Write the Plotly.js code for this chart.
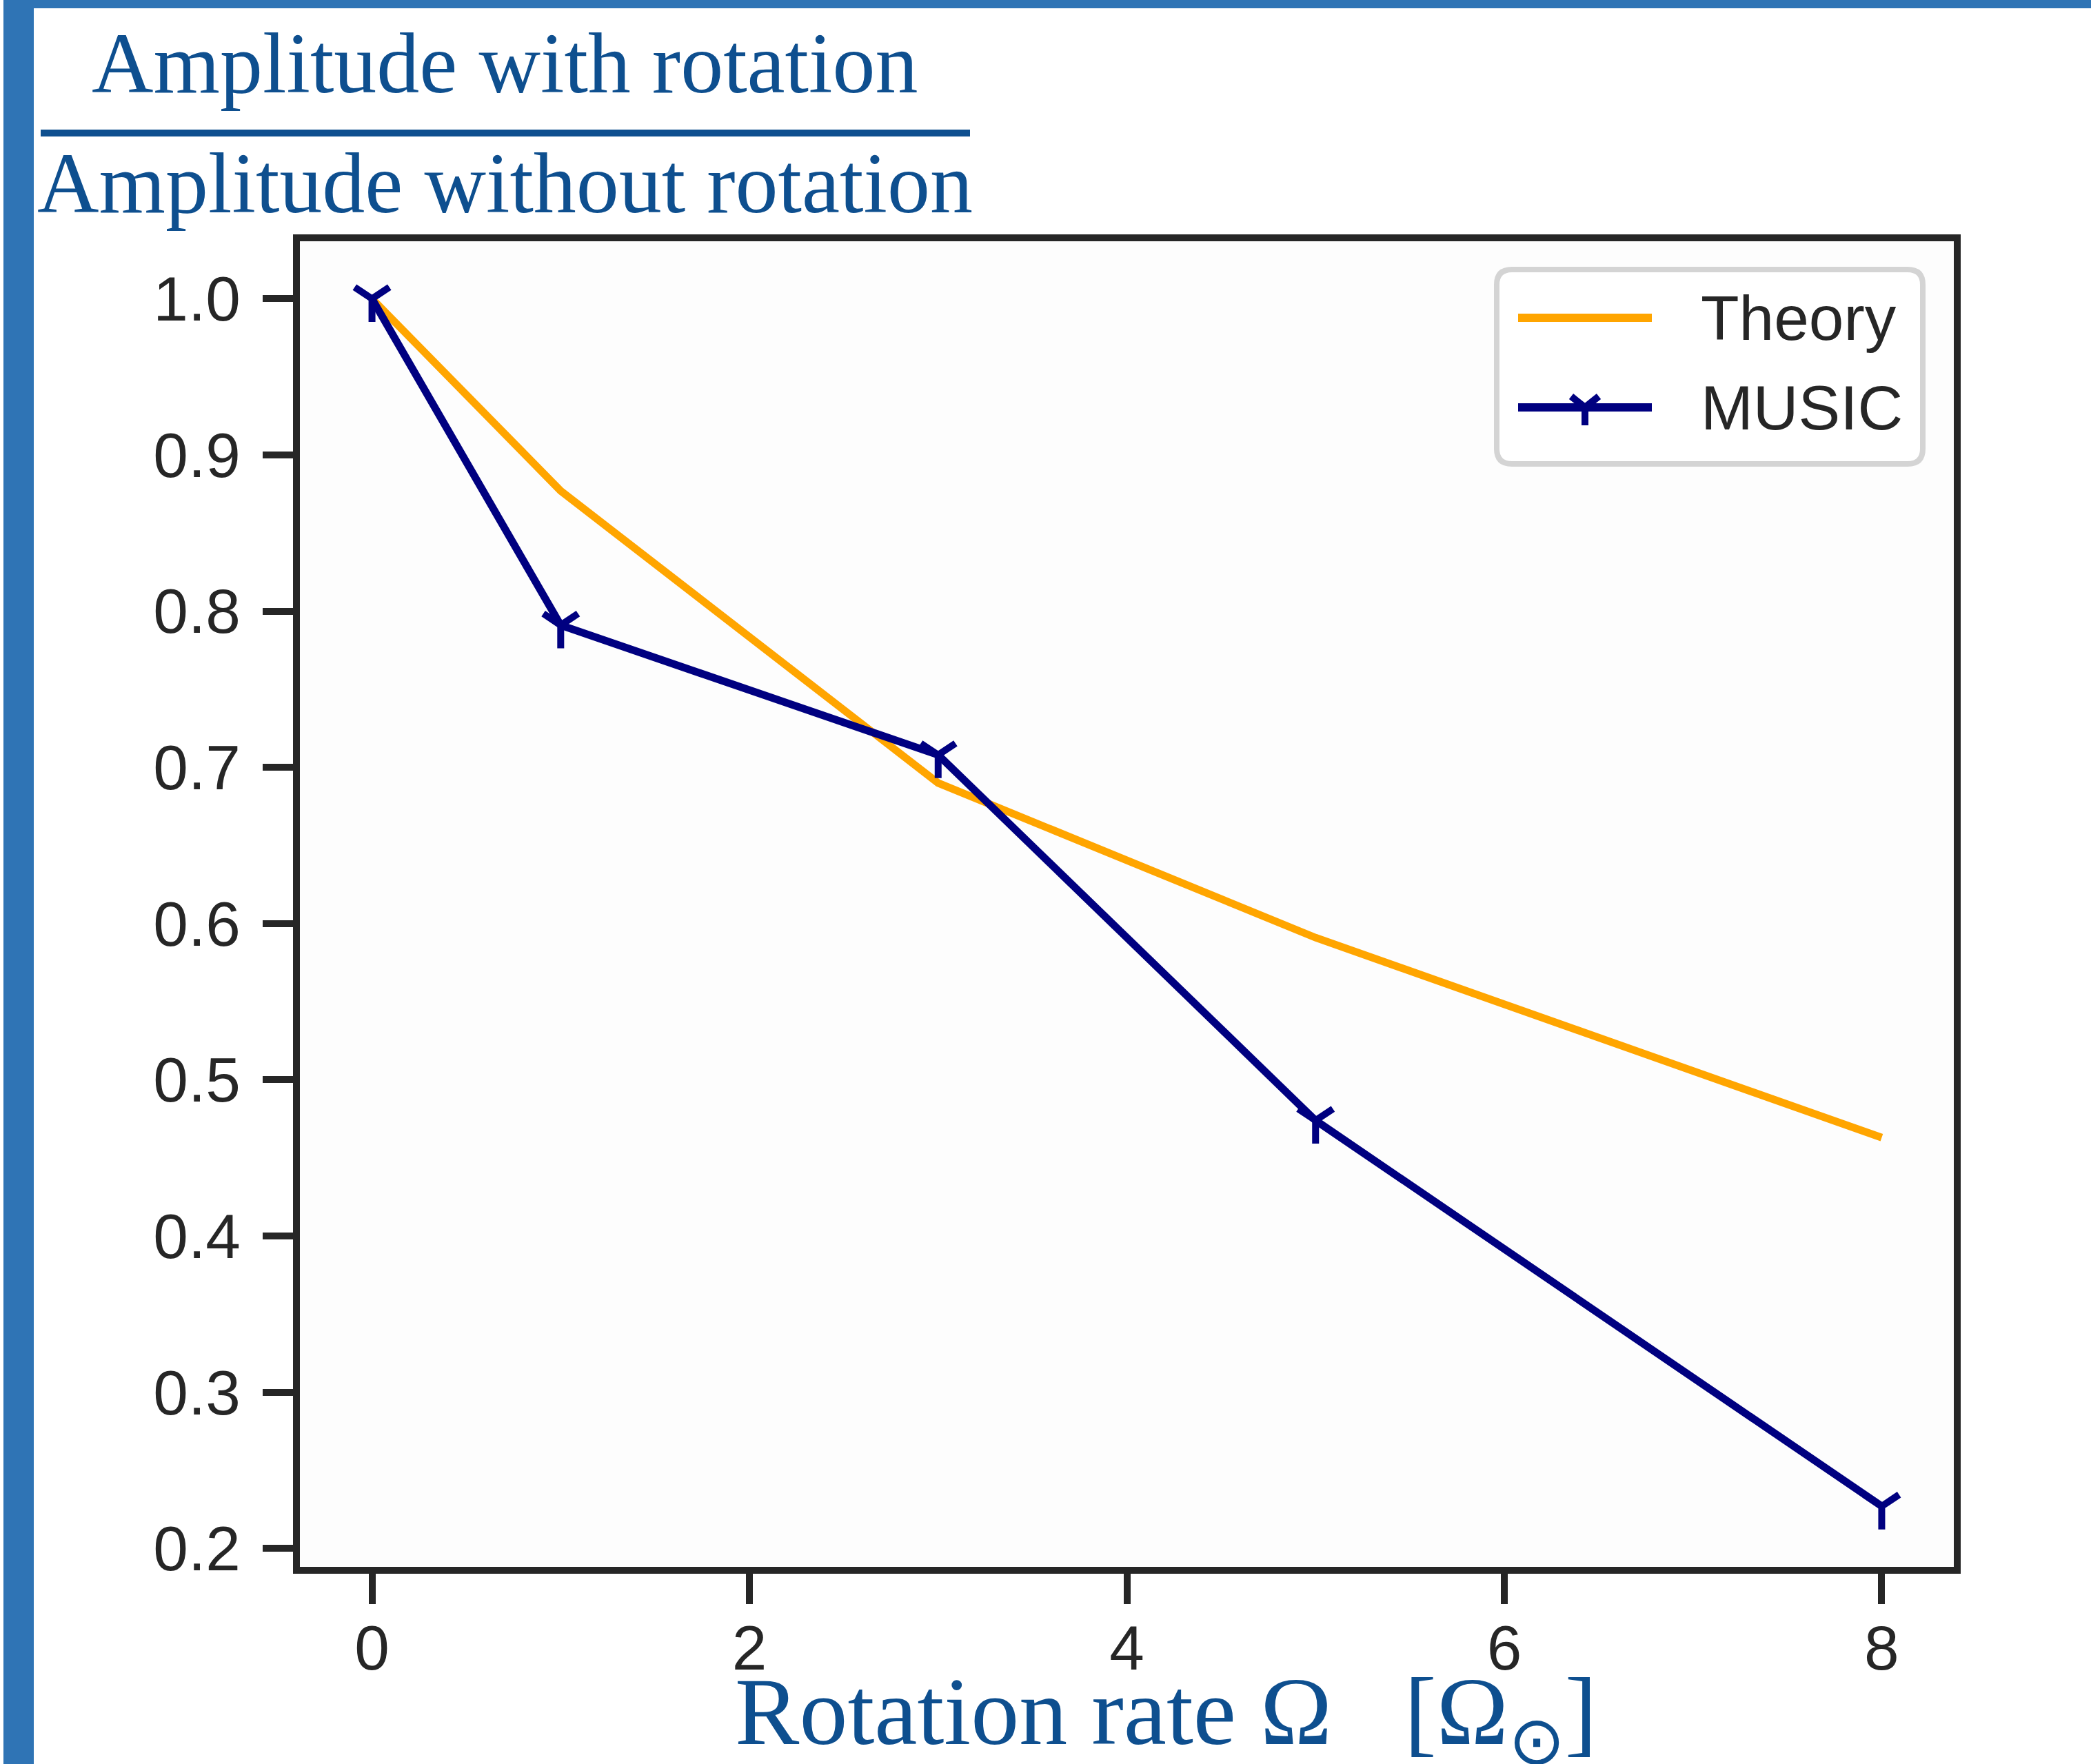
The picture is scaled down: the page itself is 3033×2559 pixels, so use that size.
<!DOCTYPE html>
<html>
<head>
<meta charset="utf-8">
<script src="https://cdn.plot.ly/plotly-3.0.1.min.js"></script>
<style>
  html, body { margin: 0; padding: 0; background: #ffffff; }
  #chart { width: 3033px; height: 2559px; }
</style>
</head>
<body>
<div id="chart"></div>
<script>
// ---- data ----
const theoryX = [0, 1, 3, 5, 8];
const theoryY = [1.0, 0.877, 0.690, 0.591, 0.463];
const musicX = [0, 1, 3, 5, 8];
const musicY = [1.0, 0.791, 0.708, 0.474, 0.227];
const xTickVals = [0, 2, 4, 6, 8];
const xTickText = ['0', '2', '4', '6', '8'];
const yTickVals = [0.2, 0.3, 0.4, 0.5, 0.6, 0.7, 0.8, 0.9, 1.0];
const yTickText = ['0.2', '0.3', '0.4', '0.5', '0.6', '0.7', '0.8', '0.9', '1.0'];
const seriesNames = ['Theory', 'MUSIC'];
const seriesColors = ['#ffa500', '#000080'];
const titleTop = 'Amplitude with rotation';
const titleBottom = 'Amplitude without rotation';
const xTitle = 'Rotation rate Ω\u00A0\u00A0\u00A0[Ω<sub>⊙</sub>]';

// ---- layout geometry (pixels) ----
const W = 3033, H = 2559;
const L = 435, R = 199, T = 350, B = 286;
const pw = W - L - R, ph = H - T - B;
const px = x => (x - L) / pw;
const py = y => (H - B - y) / ph;
const P = (x, y) => px(x).toFixed(5) + ',' + py(y).toFixed(5);

const axisColor = '#262626';
const titleColor = '#0e4f8f';
const frameBlue = '#2f74b5';
const tickFont = { family: 'Liberation Sans, Arial, sans-serif', size: 91, color: axisColor };
const serif = 'Liberation Serif, Times New Roman, serif';

const traces = [
  {
    x: theoryX, y: theoryY, name: seriesNames[0], type: 'scatter', mode: 'lines',
    line: { color: seriesColors[0], width: 11 }
  },
  {
    x: musicX, y: musicY, name: seriesNames[1], type: 'scatter', mode: 'lines+markers',
    line: { color: seriesColors[1], width: 11 },
    marker: { symbol: 'y-down', size: 42, color: seriesColors[1], line: { color: seriesColors[1], width: 10 } }
  }
];

// rounded legend box path (pixel geometry -> paper)
function roundedRect(x0, y0, x1, y1, r) {
  return 'M' + P(x0 + r, y0) + ' L' + P(x1 - r, y0) + ' Q' + P(x1, y0) + ' ' + P(x1, y0 + r) +
    ' L' + P(x1, y1 - r) + ' Q' + P(x1, y1) + ' ' + P(x1 - r, y1) +
    ' L' + P(x0 + r, y1) + ' Q' + P(x0, y1) + ' ' + P(x0, y1 - r) +
    ' L' + P(x0, y0 + r) + ' Q' + P(x0, y0) + ' ' + P(x0 + r, y0) + ' Z';
}
const lgX0 = 2171, lgX1 = 2789, lgY0 = 391, lgY1 = 673;
const lgRowY = [461, 591];
const lgLineX0 = 2202, lgLineX1 = 2396, lgTextX = 2465;
const mcx = (lgLineX0 + lgLineX1) / 2, mcy = lgRowY[1];
const legendMarker = 'M' + P(mcx - 20, mcy - 16) + ' L' + P(mcx, mcy) + ' L' + P(mcx + 20, mcy - 16) +
  ' M' + P(mcx, mcy) + ' L' + P(mcx, mcy + 26);

const layout = {
  width: W, height: H,
  margin: { l: L, r: R, t: T, b: B, pad: 0 },
  paper_bgcolor: '#ffffff',
  plot_bgcolor: '#fdfdfd',
  showlegend: false,
  xaxis: {
    range: [-0.382, 8.382],
    tickvals: xTickVals, ticktext: xTickText,
    ticks: 'outside', ticklen: 44, tickwidth: 10, tickcolor: axisColor,
    ticklabelstandoff: -14,
    showline: true, linewidth: 10, linecolor: axisColor, mirror: true,
    showgrid: false, zeroline: false, tickfont: tickFont
  },
  yaxis: {
    range: [0.1882, 1.0368],
    tickvals: yTickVals, ticktext: yTickText,
    ticks: 'outside', ticklen: 44, tickwidth: 10, tickcolor: axisColor,
    ticklabelstandoff: 14,
    showline: true, linewidth: 10, linecolor: axisColor, mirror: true,
    showgrid: false, zeroline: false, tickfont: tickFont
  },
  shapes: [
    { type: 'rect', xref: 'paper', yref: 'paper', x0: px(5), x1: px(49), y0: py(0), y1: py(H),
      fillcolor: frameBlue, line: { width: 0 }, layer: 'above' },
    { type: 'rect', xref: 'paper', yref: 'paper', x0: px(5), x1: px(W), y0: py(0), y1: py(12),
      fillcolor: frameBlue, line: { width: 0 }, layer: 'above' },
    { type: 'line', xref: 'paper', yref: 'paper', x0: px(59), x1: px(1407), y0: py(193), y1: py(193),
      line: { color: titleColor, width: 10 } },
    // legend box
    { type: 'path', xref: 'paper', yref: 'paper', path: roundedRect(lgX0, lgY0, lgX1, lgY1, 22),
      fillcolor: '#ffffff', line: { color: '#d4d4d4', width: 8 }, layer: 'above' },
    { type: 'line', xref: 'paper', yref: 'paper', x0: px(lgLineX0), x1: px(lgLineX1), y0: py(lgRowY[0]), y1: py(lgRowY[0]),
      line: { color: seriesColors[0], width: 12 }, layer: 'above' },
    { type: 'line', xref: 'paper', yref: 'paper', x0: px(lgLineX0), x1: px(lgLineX1), y0: py(lgRowY[1]), y1: py(lgRowY[1]),
      line: { color: seriesColors[1], width: 12 }, layer: 'above' },
    { type: 'path', xref: 'paper', yref: 'paper', path: legendMarker,
      line: { color: seriesColors[1], width: 10 }, layer: 'above' }
  ],
  annotations: [
    { text: titleTop, xref: 'paper', yref: 'paper', x: px(732), y: py(92),
      xanchor: 'center', yanchor: 'middle', showarrow: false,
      font: { family: serif, size: 124, color: titleColor } },
    { text: titleBottom, xref: 'paper', yref: 'paper', x: px(732), y: py(266),
      xanchor: 'center', yanchor: 'middle', showarrow: false,
      font: { family: serif, size: 124, color: titleColor } },
    { text: xTitle, xref: 'paper', yref: 'paper', x: px(1064), y: py(2492),
      xanchor: 'left', yanchor: 'middle', showarrow: false,
      font: { family: serif, size: 140, color: titleColor } },
    { text: seriesNames[0], xref: 'paper', yref: 'paper', x: px(lgTextX), y: py(lgRowY[0]),
      xanchor: 'left', yanchor: 'middle', showarrow: false, font: tickFont },
    { text: seriesNames[1], xref: 'paper', yref: 'paper', x: px(lgTextX), y: py(lgRowY[1]),
      xanchor: 'left', yanchor: 'middle', showarrow: false, font: tickFont }
  ]
};

Plotly.newPlot('chart', traces, layout, { displayModeBar: false, staticPlot: true });
</script>
</body>
</html>
